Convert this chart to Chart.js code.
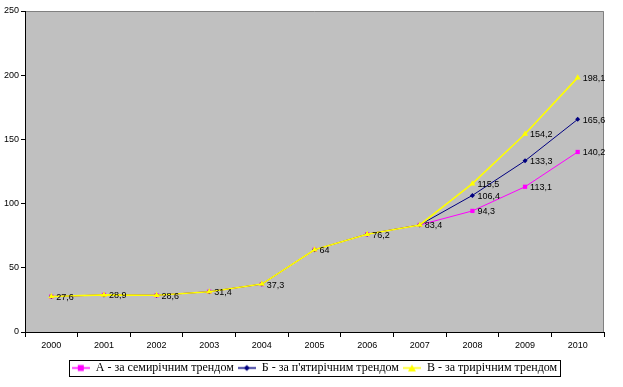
<!DOCTYPE html>
<html>
<head>
<meta charset="utf-8">
<script src="https://cdn.jsdelivr.net/npm/chart.js@4.4.1/dist/chart.umd.min.js"></script>
<style>
  html, body { margin: 0; padding: 0; background: #ffffff; }
  #wrap { width: 623px; height: 387px; position: relative; }
</style>
</head>
<body>
<div id="wrap"><canvas id="trendChart"></canvas></div>
<script>
// Прогноз за трендами: семирічний, п'ятирічний, трирічний

const years = ['2000', '2001', '2002', '2003', '2004', '2005', '2006', '2007', '2008', '2009', '2010'];
const seriesA = [27.6, 28.9, 28.6, 31.4, 37.3, 64, 76.2, 83.4, 94.3, 113.1, 140.2];
const seriesB = [27.6, 28.9, 28.6, 31.4, 37.3, 64, 76.2, 83.4, 106.4, 133.3, 165.6];
const seriesC = [27.6, 28.9, 28.6, 31.4, 37.3, 64, 76.2, 83.4, 115.5, 154.2, 198.1];
const seriesNames = ['А - за семирічним трендом', 'Б - за п\'ятирічним трендом', 'В - за трирічним трендом'];
const yTicks = [0, 50, 100, 150, 200, 250];

const tickFont = { family: 'Liberation Sans, Arial, sans-serif', size: 9 };

// Legend sample: short line with the marker in the middle
function legendSample(color, shape) {
    const c = document.createElement('canvas');
    c.width = 18;
    c.height = 9;
    const g = c.getContext('2d');
    g.strokeStyle = color;
    g.lineWidth = 1.5;
    g.beginPath();
    g.moveTo(0, 4.5);
    g.lineTo(18, 4.5);
    g.stroke();
    g.fillStyle = color;
    g.beginPath();
    if (shape === 'rect') {
        g.rect(6, 1.5, 6, 6);
    } else if (shape === 'diamond') {
        g.moveTo(9, 1.5); g.lineTo(12, 4.5); g.lineTo(9, 7.5); g.lineTo(6, 4.5);
    } else {
        g.moveTo(9, 1); g.lineTo(13, 8); g.lineTo(5, 8);
    }
    g.closePath();
    g.fill();
    return c;
}

// Gray plot background with gray top/right border
const plotBackground = {
    id: 'plotBackground',
    beforeDraw(chart) {
        const { ctx, chartArea: a } = chart;
        ctx.save();
        ctx.fillStyle = '#c0c0c0';
        ctx.fillRect(a.left, a.top, a.right - a.left, a.bottom - a.top);
        ctx.strokeStyle = '#808080';
        ctx.lineWidth = 1;
        ctx.beginPath();
        ctx.moveTo(a.left, a.top + 0.5);
        ctx.lineTo(a.right - 0.5, a.top + 0.5);
        ctx.lineTo(a.right - 0.5, a.bottom);
        ctx.stroke();
        ctx.restore();
    }
};

// Value labels to the right of each point (shared values drawn once)
const valueLabels = {
    id: 'valueLabels',
    afterDatasetsDraw(chart) {
        const ctx = chart.ctx;
        ctx.save();
        ctx.font = '9px "Liberation Sans", Arial, sans-serif';
        ctx.fillStyle = '#000000';
        ctx.textBaseline = 'middle';
        ctx.textAlign = 'left';
        chart.data.datasets.forEach((ds, di) => {
            const meta = chart.getDatasetMeta(di);
            meta.data.forEach((pt, i) => {
                for (let k = 0; k < di; k++) {
                    if (chart.data.datasets[k].data[i] === ds.data[i]) return;
                }
                const txt = String(ds.data[i]).replace('.', ',');
                ctx.fillText(txt, pt.x + 5, pt.y + 1);
            });
        });
        ctx.restore();
    }
};

// Black frame around the legend items
const legendFrame = {
    id: 'legendFrame',
    afterDraw(chart) {
        const lg = chart.legend;
        if (!lg || !lg.legendHitBoxes.length) return;
        const boxes = lg.legendHitBoxes;
        const x1 = boxes[0].left - 3;
        const last = boxes[boxes.length - 1];
        const x2 = last.left + last.width + 3;
        const y1 = boxes[0].top - 2;
        const y2 = boxes[0].top + boxes[0].height + 2;
        const ctx = chart.ctx;
        ctx.save();
        ctx.strokeStyle = '#000000';
        ctx.lineWidth = 1;
        ctx.strokeRect(Math.round(x1) + 0.5, Math.round(y1) + 0.5, Math.round(x2 - x1), Math.round(y2 - y1));
        ctx.restore();
    }
};

const ctx = document.getElementById('trendChart').getContext('2d');
const trendChart = new Chart(ctx, {
    type: 'line',
    data: {
        labels: years,
        datasets: [
            {
                label: seriesNames[0],
                data: seriesA,
                borderColor: '#ff00ff',
                backgroundColor: '#ff00ff',
                borderWidth: 1,
                pointStyle: 'rect',
                pointRadius: 3,
                pointBorderWidth: 0,
                tension: 0,
                order: 3
            },
            {
                label: seriesNames[1],
                data: seriesB,
                borderColor: '#000080',
                backgroundColor: '#000080',
                borderWidth: 1,
                pointStyle: 'rectRot',
                pointRadius: 2.5,
                pointBorderWidth: 0,
                tension: 0,
                order: 2
            },
            {
                label: seriesNames[2],
                data: seriesC,
                borderColor: '#ffff00',
                backgroundColor: '#ffff00',
                borderWidth: 1.6,
                pointStyle: 'triangle',
                pointRadius: 3.5,
                pointBorderWidth: 0,
                tension: 0,
                order: 1
            }
        ]
    },
    options: {
        responsive: true,
        maintainAspectRatio: false,
        animation: false,
        layout: {
            padding: { top: 11, right: 19, left: 0, bottom: 3 }
        },
        plugins: {
            tooltip: { enabled: false },
            legend: {
                display: true,
                position: 'bottom',
                fullSize: false,
                labels: {
                    color: '#000000',
                    font: { family: 'Liberation Serif, "Times New Roman", serif', size: 12 },
                    usePointStyle: true,
                    pointStyleWidth: 18,
                    boxHeight: 9,
                    padding: 4,
                    generateLabels(chart) {
                        const shapes = ['rect', 'diamond', 'triangle'];
                        return chart.data.datasets.map((ds, i) => ({
                            text: ds.label,
                            pointStyle: legendSample(ds.borderColor, shapes[i]),
                            fillStyle: ds.borderColor,
                            strokeStyle: ds.borderColor,
                            lineWidth: 0,
                            hidden: false,
                            datasetIndex: i,
                            fontColor: '#000000'
                        }));
                    }
                }
            }
        },
        scales: {
            x: {
                type: 'category',
                offset: true,
                grid: {
                    offset: true,
                    drawOnChartArea: false,
                    drawTicks: true,
                    tickLength: 5,
                    color: '#000000'
                },
                border: { color: '#000000', width: 1 },
                ticks: {
                    color: '#000000',
                    font: tickFont,
                    padding: 3,
                    maxRotation: 0
                },
                afterFit(scale) { scale.height = 26; }
            },
            y: {
                min: 0,
                max: 250,
                afterBuildTicks(scale) {
                    scale.ticks = yTicks.map(v => ({ value: v }));
                },
                grid: {
                    drawOnChartArea: false,
                    drawTicks: true,
                    tickLength: 4,
                    color: '#000000'
                },
                border: { color: '#000000', width: 1 },
                ticks: {
                    color: '#000000',
                    font: tickFont,
                    padding: 2
                },
                afterFit(scale) { scale.width = 25; }
            }
        }
    },
    plugins: [plotBackground, valueLabels, legendFrame]
});
</script>
</body>
</html>
